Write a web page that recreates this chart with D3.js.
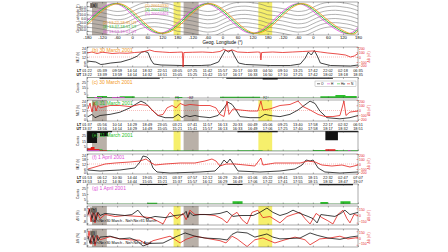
<!DOCTYPE html>
<html>
<head>
<meta charset="utf-8">
<script src="https://cdn.jsdelivr.net/npm/d3@7"></script>
<style>
body{margin:0;background:#fff}
svg{display:block}
</style>
</head>
<body>
<div id="chart"></div>
<script>
// ---- data ----
// x positions are "u" = unwrapped geographic longitude + 180 (three passes, 0..1080)
var lonTicks = [-180,-120,-60,0,60,120,180,-120,-60,0,60,120,180,-120,-60,0,60,120,180];
var latTicks = [30,20,10,0,-10,-20,-30];
var latLabels = ["30.0","20.0","10.0","0.0","-10.0","-20.0","-30.0"];

var ltMar30 = ["01:22","05:39","09:59","14:14","18:32","22:51","03:05","07:25","11:42","15:57","20:17","00:33","04:50","09:10","13:25","17:42","22:02","02:18","06:35"];
var utMar30 = ["13:22","13:39","13:59","14:14","14:32","14:51","15:05","15:25","15:42","15:57","16:17","16:33","16:50","17:10","17:25","17:42","18:02","18:18","18:35"];
var ltMar31 = ["01:37","05:56","10:14","14:29","18:49","23:05","03:21","07:41","11:57","16:13","20:33","00:49","05:06","09:25","13:40","17:58","22:17","02:32","06:51"];
var utMar31 = ["13:37","13:56","14:14","14:29","14:49","15:05","15:21","15:41","15:57","16:13","16:33","16:49","17:06","17:25","17:40","17:58","18:17","18:32","18:51"];
var ltApr01 = ["01:53","06:12","10:30","14:44","19:05","23:21","03:37","07:57","12:12","16:29","20:49","01:06","05:22","09:41","13:55","18:15","22:32","02:47","07:07"];
var utApr01 = ["13:53","14:12","14:30","14:44","15:05","15:21","15:37","15:57","16:12","16:29","16:49","17:06","17:22","17:41","17:55","18:15","18:32","18:47","19:07"];

// satellite tracks (u, geog. latitude)
var trackMar30 = [[0,-16],[28,0],[120,36],[212,0],[305,-36],[398,0],[490,36],[582,0],[675,-36],[768,0],[860,36],[952,0],[1045,-36],[1080,-30]];
var trackMar31 = [[0,-11],[19,0],[111,36],[203,0],[296,-36],[389,0],[481,36],[573,0],[666,-36],[759,0],[851,36],[943,0],[1036,-36],[1080,-26]];
var trackApr01 = [[0,-6],[10,0],[102,36],[194,0],[287,-36],[380,0],[472,36],[564,0],[657,-36],[750,0],[842,36],[934,0],[1027,-36],[1080,-22]];

// magnetic latitude contours, geog. latitude at lon -180..180 step 30
var contourLons = [-180,-150,-120,-90,-60,-30,0,30,60,90,120,150,180];
var contours = [
  [29,27,24,20,17,19,27,35,39,40,38,35,29],
  [19,17,14,10,7,9,17,25,29,30,28,25,19],
  [9,7,4,0,-3,-1,7,15,19,20,18,15,9],
  [-1,-3,-6,-10,-13,-11,-3,5,9,10,8,5,-1],
  [-11,-13,-16,-20,-23,-21,-13,-5,-1,0,-2,-5,-11],
  [-21,-23,-26,-30,-33,-31,-23,-15,-11,-10,-12,-15,-21],
  [-31,-33,-36,-40,-43,-41,-33,-25,-21,-20,-22,-25,-31]
];

var grayBands = [[20,79],[385,445]];
var yellowBands = [[345,373],[683,738]];
var bandNames = ["E1","F1","E2","F2"];
var bandNameU = [50,359,415,710];

// (b),(d),(f): black on left axis (0-24), red on right axis (-200..200)
var blackMar30 = [[0,7.2],[35,6],[55,3],[70,3.5],[95,4.8],[135,6],[175,9.6],[200,13],[218,18],[230,18.6],[243,17.4],[255,8.4],[266,3.6],[295,2.4],[375,1.8],[455,1.8],[492,2.4],[524,6],[540,14.4],[552,20.4],[564,18],[576,20.4],[588,13],[604,4.8],[632,3],[730,1.8],[810,1.8],[850,3.6],[870,10.8],[882,18],[894,14.4],[906,19.8],[918,13],[930,4.8],[970,1.8],[1050,1.2],[1080,2.4]];
var redMar30 = [[0,80],[20,100],[40,70],[60,95],[80,85],[100,70],[130,80],[160,75],[190,90],[220,100],[250,140],[270,110],[300,100],[330,90],[360,95],[380,100],[383,-200],[386,90],[420,95],[460,100],[500,90],[530,110],[545,150],[560,120],[580,140],[600,100],[640,90],[680,100],[690,95],[693,-60],[696,90],[740,100],[780,90],[820,100],[860,110],[900,120],[930,100],[960,80],[1000,60],[1030,40],[1050,0],[1065,20],[1080,70]];
var blackMar31 = [[4,5],[20,7.6],[32,3.8],[52,6.3],[92,7.6],[131,10],[171,15],[199,20],[215,22.7],[235,20],[259,12.6],[283,6.3],[311,3.8],[343,3.8],[363,7.6],[379,3.8],[395,6.3],[410,5],[430,6.3],[450,5],[490,3.8],[522,6.3],[546,15],[562,21.5],[578,19],[594,12.6],[610,5],[650,3.8],[689,3.8],[709,7.6],[729,6.3],[769,5],[809,7.6],[841,12.6],[865,17.7],[889,22.7],[909,20],[928,11.4],[956,3.8],[1008,2.5],[1048,3.8],[1080,6.3]];
var redMar31 = [[4,30],[12,140],[20,-30],[28,160],[36,-10],[44,95],[52,50],[92,95],[131,95],[171,75],[211,115],[243,95],[263,-10],[283,-95],[303,-75],[319,50],[339,95],[355,50],[371,135],[391,95],[410,115],[450,95],[490,95],[514,50],[530,-75],[546,-115],[558,180],[566,-75],[582,30],[610,10],[650,-10],[681,-10],[693,180],[701,10],[729,30],[769,95],[809,115],[841,180],[861,75],[889,10],[921,-75],[948,-115],[980,-115],[1008,-95],[1024,180],[1032,-95],[1048,-30],[1080,-10]];
var blackApr01 = [[4,4.8],[52,3.6],[131,4.8],[191,7.2],[211,14.4],[223,21.6],[239,20.4],[251,16.8],[263,7.2],[279,2.4],[331,1.2],[450,2.4],[510,3.6],[530,9.6],[546,16.8],[558,13.2],[570,18],[586,10.8],[602,3.6],[689,2.4],[769,3.6],[829,6],[857,10.8],[873,16.8],[889,15.6],[901,16.8],[921,7.2],[948,2.4],[1008,1.2],[1080,2.4]];
var redApr01 = [[4,-100],[32,-60],[72,0],[112,20],[171,40],[211,60],[235,100],[251,40],[271,-20],[311,0],[371,20],[430,20],[470,60],[498,100],[514,60],[530,-40],[554,0],[590,0],[630,-20],[669,-40],[693,120],[701,-20],[749,20],[809,20],[849,20],[881,60],[909,40],[936,-20],[976,-40],[1016,-20],[1048,-60],[1080,-20]];

// (c),(e),(g): black hanging from top, coloured bars from bottom (0-30)
var topMar30 = [[0,0],[50,2],[290,0],[555,2],[700,3],[760,2],[980,0],[1080,0]];
var greenMar30 = [[0,1.5],[40,3],[80,1.5],[130,2.5],[190,0.5],[330,0],[350,1.5],[380,0.5],[420,0],[530,2],[690,0.5],[930,2.5],[990,4.5],[1030,3],[1075,0]];
var magentaMar30 = [[0,0.5],[30,1.5],[60,0.5],[100,1.5],[150,0],[400,0.8],[420,0],[1080,0]];
var topMar31 = [[0,18],[40,3],[52,8],[84,2],[100,0.5],[600,2],[760,0.5],[950,14],[1000,2],[1080,2]];
var redBarsMar31 = [[0,4],[15,6],[30,3],[50,1],[80,0],[950,2.5],[990,0],[1080,0]];
var greenMar31 = [[0,2.5],[60,1],[100,0.8],[600,1],[700,0.5],[900,1.5],[1000,1],[1080,0.5]];
var magentaMar31 = [[0,1.5],[50,0],[1040,1.5],[1050,0],[1080,0]];
var topApr01 = [[0,0],[210,1.5],[320,0],[560,1.5],[620,0],[925,2],[1060,0],[1080,0]];
var greenApr01 = [[0,0.5],[240,2],[280,0.5],[580,4],[620,0.5],[930,3],[960,0.5],[1010,4],[1050,0.5],[1080,0.5]];

// (h),(i): black left axis (-10..10), red right axis (-200..200)
var blackH = [[4,1],[12,6.7],[20,-3.3],[28,5.6],[36,-4.4],[44,3.3],[52,0],[72,2.2],[112,1],[151,0],[179,1],[203,5.6],[223,-1],[239,-3.3],[271,-1],[311,-2.2],[351,0],[383,1],[395,4.4],[402,-2.2],[410,3.3],[422,0],[450,1],[490,1],[530,2.2],[558,4.4],[582,-1],[610,0],[662,0],[689,3.3],[717,7.8],[741,3.3],[769,0],[797,2.2],[821,5.6],[849,2.2],[881,-1],[901,-3.3],[917,-7.8],[932,1],[960,0],[988,-1],[1012,2.2],[1028,5.6],[1048,1],[1080,3.3]];
var redH = [[4,0],[8,155],[16,-133],[24,133],[32,-155],[40,67],[52,-67],[72,22],[112,-22],[151,0],[211,-22],[251,-44],[279,-111],[303,-178],[319,-22],[331,67],[359,-67],[383,44],[395,-89],[410,111],[430,22],[470,22],[510,0],[538,-67],[558,-155],[578,0],[598,67],[618,-89],[638,-178],[658,67],[681,111],[701,-44],[729,-22],[769,-155],[797,-22],[821,22],[849,67],[869,-67],[889,-178],[913,44],[936,-44],[960,-111],[980,-178],[1000,22],[1020,111],[1036,-67],[1048,-155],[1064,22],[1080,0]];
var blackI = [[4,2],[12,-6],[20,5],[28,-4],[36,6],[44,-3],[52,1],[92,2],[131,-1],[171,0],[199,-3],[223,-8.9],[251,-6],[303,-5.6],[351,1],[391,5.6],[430,2],[470,0],[530,-1],[558,-2.2],[578,4],[598,6.7],[638,5.6],[669,1],[717,4.5],[741,1],[769,-1],[849,0],[889,5.6],[917,3],[960,0],[1008,-1.5],[1048,1],[1080,2.2]];
var redI = [[4,0],[8,160],[16,-140],[24,120],[32,-170],[40,60],[52,-40],[92,30],[131,-20],[171,-40],[211,-50],[239,-150],[263,-60],[303,0],[331,40],[371,-110],[395,-30],[430,40],[470,0],[530,-60],[554,-110],[578,40],[598,-20],[638,-190],[669,-40],[701,0],[749,-110],[789,-40],[829,20],[869,-40],[889,-150],[928,-20],[968,0],[1008,40],[1040,-20],[1080,10]];

var orange = "#f39a1e", green = "#2bbf2b", magenta = "#e04fd8", red = "#e3211c";
var FONT = "'Liberation Sans', Arial, sans-serif";

var W = 448, H = 252, X0 = 87, X1 = 358;
var svg = d3.select("#chart").append("svg").attr("width", W).attr("height", H)
    .attr("font-family", FONT);

var x = d3.scaleLinear().domain([0, 1080]).range([X0, X1]);
var tickU = lonTicks.map(function (d, i) { return i * 60; });

var clipN = 0;
function clip(y0, y1) {
    var id = "clip" + (clipN++);
    svg.append("clipPath").attr("id", id).append("rect")
        .attr("x", X0).attr("y", y0).attr("width", X1 - X0).attr("height", y1 - y0);
    return "url(#" + id + ")";
}

function bands(y0, y1) {
    grayBands.forEach(function (b) {
        svg.append("rect").attr("x", x(b[0])).attr("y", y0).attr("width", x(b[1]) - x(b[0]))
            .attr("height", y1 - y0).attr("fill", "#b9b0a8");
    });
    yellowBands.forEach(function (b) {
        svg.append("rect").attr("x", x(b[0])).attr("y", y0).attr("width", x(b[1]) - x(b[0]))
            .attr("height", y1 - y0).attr("fill", "#f6ef6c");
    });
}

function frame(y0, y1, labels) {
    var bottom = d3.axisBottom(x).tickValues(tickU).tickSizeInner(-1.5).tickSizeOuter(0).tickPadding(1.5)
        .tickFormat(function (d, i) { return labels ? labels[i] : ""; });
    var gb = svg.append("g").attr("transform", "translate(0," + y1 + ")").call(bottom);
    var gt = svg.append("g").attr("transform", "translate(0," + y0 + ")")
        .call(d3.axisTop(x).tickValues(tickU).tickSizeInner(-1.5).tickSizeOuter(0).tickFormat(""));
    [gb, gt].forEach(function (g) {
        g.attr("font-size", 4.2).attr("font-family", FONT);
        g.selectAll("line").attr("stroke", "#333").attr("stroke-width", 0.4);
        g.select(".domain").remove();
    });
    svg.append("rect").attr("x", X0).attr("y", y0).attr("width", X1 - X0).attr("height", y1 - y0)
        .attr("fill", "none").attr("stroke", "#555").attr("stroke-width", 0.5);
}

// edge labels are nudged inward so they do not collide with the rows below/above
function nudge(vals) {
    var lo = d3.min(vals), hi = d3.max(vals);
    return function (d) { return d === lo ? "-0.1em" : (d === hi ? "0.6em" : "0.32em"); };
}
function leftAxis(y, vals, color, fmt) {
    var g = svg.append("g").attr("transform", "translate(" + X0 + ",0)")
        .call(d3.axisLeft(y).tickValues(vals).tickSizeInner(-1.5).tickSizeOuter(0).tickPadding(1)
            .tickFormat(fmt || function (d) { return d; }));
    g.attr("font-size", 3.5).attr("font-family", FONT);
    g.selectAll("text").attr("fill", color).attr("dy", nudge(vals));
    g.selectAll("line").attr("stroke", "#333").attr("stroke-width", 0.4);
    g.select(".domain").remove();
}
function rightAxis(y, vals) {
    var g = svg.append("g").attr("transform", "translate(" + X1 + ",0)")
        .call(d3.axisRight(y).tickValues(vals).tickSizeInner(-1.5).tickSizeOuter(0).tickPadding(1));
    g.attr("font-size", 3.4).attr("font-family", FONT);
    g.selectAll("text").attr("fill", red).attr("dy", nudge(vals));
    g.selectAll("line").attr("stroke", red).attr("stroke-width", 0.4);
    g.select(".domain").remove();
}
function vtitle(tx, ty, txt, color, fs) {
    svg.append("text").attr("transform", "translate(" + tx + "," + ty + ") rotate(-90)")
        .attr("text-anchor", "middle").attr("font-size", fs || 4).attr("fill", color).text(txt);
}
function title(ty, txt, color) {
    svg.append("text").attr("x", X0 + 5).attr("y", ty).attr("font-size", 5).attr("fill", color).text(txt);
}
function line(data, y, color, w, cp, curve) {
    svg.append("path").datum(data).attr("clip-path", cp)
        .attr("d", d3.line().x(function (d) { return x(d[0]); }).y(function (d) { return y(d[1]); })
            .curve(curve || d3.curveLinear))
        .attr("fill", "none").attr("stroke", color).attr("stroke-width", w).attr("stroke-linejoin", "round");
}
function timeRows(yLT, lt, ut) {
    [[yLT, lt], [yLT + 4.3, ut]].forEach(function (row) {
        svg.append("g").selectAll("text").data(row[1]).join("text")
            .attr("x", function (d, i) { return x(tickU[i]); }).attr("y", row[0])
            .attr("text-anchor", "middle").attr("font-size", 3.9).attr("fill", "#111").text(function (d) { return d; });
    });
    svg.append("text").attr("x", X0 - 5.8).attr("y", yLT).attr("text-anchor", "end").attr("font-size", 3.6)
        .attr("font-weight", "bold").text("LT");
    svg.append("text").attr("x", X0 - 5.8).attr("y", yLT + 4.3).attr("text-anchor", "end").attr("font-size", 3.6)
        .attr("font-weight", "bold").text("UT");
}

// ---------- panel (a) ----------
var A0 = 2, A1 = 35;
var ya = d3.scaleLinear().domain([-40, 40]).range([A1, A0]);
var cpA = clip(A0, A1);
bands(A0, A1);
[0, 360, 720].forEach(function (off) {
    contours.forEach(function (row) {
        var pts = row.map(function (v, j) { return [contourLons[j] + 180 + off, v]; });
        line(pts, ya, "#666", 0.5, cpA, d3.curveMonotoneX);
    });
});
line(trackApr01, ya, magenta, 0.9, cpA, d3.curveNatural);
line(trackMar31, ya, green, 0.9, cpA, d3.curveNatural);
line(trackMar30, ya, orange, 0.9, cpA, d3.curveNatural);
frame(A0, A1, lonTicks);
leftAxis(ya, latTicks, "#111", function (d, i) { return latLabels[i]; });
vtitle(78.5, (A0 + A1) / 2, "Geog. Latitude (°)", "#111", 3.6);
svg.append("text").attr("x", (X0 + X1) / 2).attr("y", 43.5).attr("text-anchor", "middle")
    .attr("font-size", 4.6).text("Geog. Longitude (°)");
svg.append("rect").attr("x", X0 + 3).attr("y", 3).attr("width", 8).attr("height", 5).attr("fill", "#8d857e");
svg.append("text").attr("x", X0 + 4).attr("y", 7).attr("font-size", 4.5).attr("fill", "#111").text("(a)");
[["(1) 20010330", orange], ["(3) 20010331", green], ["(5) 20010401", magenta]].forEach(function (t, i) {
    svg.append("text").attr("x", 145).attr("y", 6.5 + i * 4.4).attr("font-size", 4).attr("fill", t[1]).text(t[0]);
});
[["(2) 13:22-18:35 UT", orange], ["(4) 13:37-18:51 UT", green], ["(6) 13:53-19:07 UT", magenta]].forEach(function (t, i) {
    svg.append("text").attr("x", 103).attr("y", 23.5 + i * 4.6).attr("font-size", 4).attr("fill", t[1]).text(t[0]);
});

// ---------- line panels (b),(d),(f) ----------
function lpanel(y0, y1, blk, rd, ttl, col, lt, ut, withBands) {
    var yl = d3.scaleLinear().domain([0, 24]).range([y1, y0]);
    var yr = d3.scaleLinear().domain([-200, 200]).range([y1, y0]);
    var cp = clip(y0, y1);
    if (withBands) bands(y0, y1);
    svg.append("line").attr("x1", X0).attr("x2", X1).attr("y1", yr(0)).attr("y2", yr(0))
        .attr("stroke", red).attr("stroke-width", 0.3).attr("stroke-dasharray", "1,1");
    line(blk, yl, "#111", 0.8, cp);
    line(rd, yr, red, 0.8, cp);
    frame(y0, y1);
    leftAxis(yl, [0, 6, 12, 18, 24], "#111");
    rightAxis(yr, [-200, -100, 0, 100, 200]);
    vtitle(79, (y0 + y1) / 2, "MLT (h)", "#111", 3.2);
    vtitle(370, (y0 + y1) / 2, "ΔB (nT)", red, 3.2);
    title(y0 + 4.5, ttl, col);
    timeRows(y1 + 4.6, lt, ut);
}
lpanel(47, 67, blackMar30, redMar30, "(b) 30 March 2001", orange, ltMar30, utMar30, false);
lpanel(100, 121, blackMar31, redMar31, "(d) 31 March 2001", green, ltMar31, utMar31, true);
lpanel(154, 174, blackApr01, redApr01, "(f) 1 April 2001", magenta, ltApr01, utApr01, false);

// band labels above (d)
bandNames.forEach(function (n, i) {
    svg.append("text").attr("x", x(bandNameU[i])).attr("y", 99.3).attr("text-anchor", "middle")
        .attr("font-size", 3.2).attr("fill", "#222").text(n);
});

// ---------- bar panels (c),(e),(g) ----------
function bpanel(y0, y1, top, bottoms, ttl, col, withBands) {
    var yb = d3.scaleLinear().domain([0, 30]).range([y1, y0]);
    var depth = d3.scaleLinear().domain([0, 30]).range([0, y1 - y0]);
    var cp = clip(y0, y1);
    if (withBands) bands(y0, y1);
    svg.append("path").datum(top).attr("clip-path", cp)
        .attr("d", d3.area().x(function (d) { return x(d[0]); }).y0(y0)
            .y1(function (d) { return y0 + depth(d[1]); }).curve(d3.curveStepAfter))
        .attr("fill", "#111");
    bottoms.forEach(function (s) {
        svg.append("path").datum(s[0]).attr("clip-path", cp)
            .attr("d", d3.area().x(function (d) { return x(d[0]); }).y0(y1)
                .y1(function (d) { return yb(d[1]); }).curve(d3.curveStepAfter))
            .attr("fill", s[1]);
    });
    frame(y0, y1);
    leftAxis(yb, [5, 15, 25], "#111");
    vtitle(79, (y0 + y1) / 2, "Counts", "#111", 3.2);
    title(y0 + 6, ttl, col);
}
bpanel(77.5, 98, topMar30, [[greenMar30, green], [magentaMar30, magenta]], "(c) 30 March 2001", orange, false);
bpanel(131, 151, topMar31, [[greenMar31, green], [redBarsMar31, red], [magentaMar31, magenta]], "(e) 31 March 2001", green, true);
bpanel(184, 204, topApr01, [[greenApr01, green]], "(g) 1 April 2001", magenta, false);

// legend box in (c)
var lg = svg.append("g");
lg.append("rect").attr("x", 315).attr("y", 81).attr("width", 41).attr("height", 5.5)
    .attr("fill", "#fff").attr("stroke", "#777").attr("stroke-width", 0.3);
[["#111", "O"], [magenta, "H"], [green, "He"], [red, "N"]].forEach(function (d, i) {
    lg.append("line").attr("x1", 317 + i * 10).attr("x2", 320 + i * 10).attr("y1", 83.8).attr("y2", 83.8)
        .attr("stroke", d[0]).attr("stroke-width", 0.6);
    lg.append("text").attr("x", 321 + i * 10).attr("y", 85).attr("font-size", 3.2).text(d[1]);
});

// ---------- difference panels (h),(i) ----------
function dpanel(y0, y1, blk, rd, lbl, txt) {
    var yl = d3.scaleLinear().domain([-10, 10]).range([y1, y0]);
    var yr = d3.scaleLinear().domain([-200, 200]).range([y1, y0]);
    var cp = clip(y0, y1);
    bands(y0, y1);
    line(rd, yr, red, 0.8, cp);
    line(blk, yl, "#111", 0.8, cp);
    frame(y0, y1);
    leftAxis(yl, [-8, 0, 8], "#111");
    rightAxis(yr, [-150, 0, 150]);
    vtitle(79, (y0 + y1) / 2, "ΔN (%)", "#111", 3.2);
    vtitle(370, (y0 + y1) / 2, "ΔB (nT)", red, 3.2);
    svg.append("rect").attr("x", X0 + 3).attr("y", y0 + 1.5).attr("width", 7).attr("height", 5).attr("fill", "#8d857e");
    svg.append("text").attr("x", X0 + 4).attr("y", y0 + 5.5).attr("font-size", 4.5).text(lbl);
    svg.append("text").attr("x", X0 + 4).attr("y", y1 - 3).attr("font-size", 3.8).text(txt);
}
dpanel(206, 225, blackH, redH, "(h)", "Ne/<Ne>30 March - Ne/<Ne>31 March");
dpanel(229, 247, blackI, redI, "(i)", "Ne/<Ne>30 March - Ne/<Ne>1 April");
</script>
</body>
</html>
